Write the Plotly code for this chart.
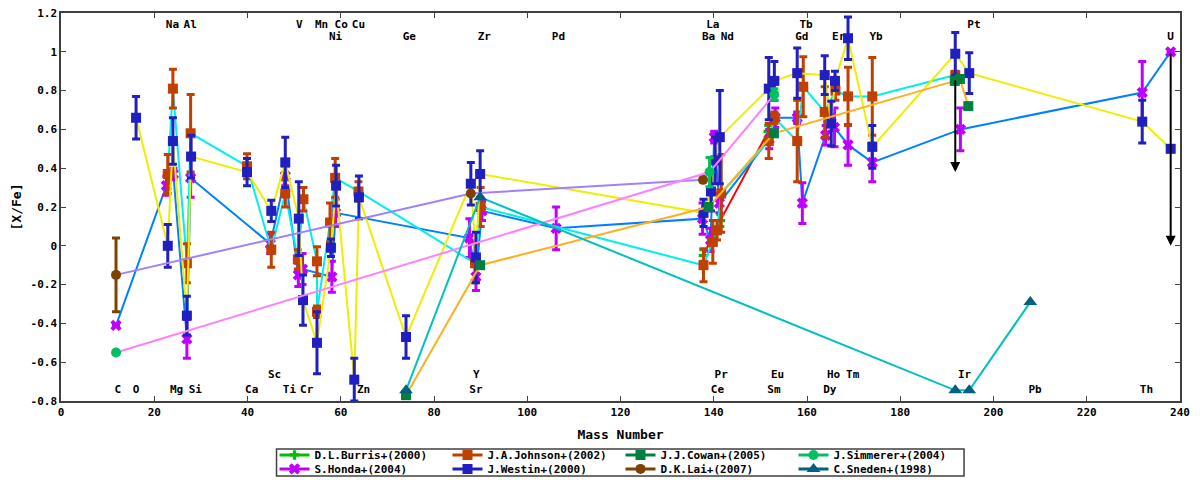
import plotly.graph_objects as go

FONT = "DejaVu Sans Mono"

# values: mass number, [X/Fe], error
burris_x = [137.8, 141.4, 151.7]
burris_y = [-0.05, 0.13, 0.59]
burris_err = [0.03, 0.03, 0.03]

honda_x = [11.8, 22.6, 24.1, 27.0, 27.8, 44.9, 48.1, 50.9, 51.8, 58.1, 58.9,
           87.6, 89.0, 90.3, 106.2, 137.6, 139.3, 140.1, 141.2, 151.9, 153.2,
           157.9, 159.0, 164.0, 165.9, 168.8, 174.0, 192.9, 231.9, 238.0]
honda_y = [-0.41, 0.31, 0.37, -0.48, 0.35, 0.01, 0.36, -0.15, -0.12, -0.16, 0.17,
           0.04, -0.16, 0.18, 0.09, 0.14, 0.03, 0.56, 0.22, 0.55, 0.66,
           0.66, 0.22, 0.57, 0.61, 0.52, 0.43, 0.60, 0.79, 1.00]
honda_err = [0, 0.05, 0.03, 0.1, 0.1, 0.05, 0.05, 0.06, 0.08, 0.08, 0.07,
             0.1, 0.07, 0.05, 0.11, 0.08, 0.06, 0.03, 0.05, 0.05, 0.05,
             0.03, 0.105, 0.05, 0.1, 0.105, 0.1, 0.11, 0.16, 0]

johnson_x = [22.9, 24.0, 27.0, 27.8, 39.9, 45.1, 48.1, 50.8, 52.0, 54.9, 54.9,
             57.7, 58.8, 63.8, 88.8, 90.0, 137.8, 139.8, 140.7, 141.6, 151.8,
             153.0, 157.9, 159.2, 163.8, 166.1, 168.8, 174.0, 191.8]
johnson_y = [0.37, 0.81, -0.09, 0.58, 0.41, -0.02, 0.27, -0.07, 0.24, -0.08, -0.34,
             0.12, 0.35, 0.28, -0.09, 0.20, -0.10, 0.02, 0.08, 0.27, 0.54,
             0.66, 0.54, 0.82, 0.69, 0.80, 0.77, 0.77, 0.88]
johnson_err = [0.1, 0.1, 0.1, 0.2, 0.065, 0.09, 0.07, 0.05, 0.06, 0.075, 0.03,
               0.1, 0.1, 0.05, 0.1, 0.1, 0.085, 0.11, 0.05, 0.2, 0.09,
               0.03, 0.21, 0.155, 0.13, 0.05, 0.15, 0.2, 0.02]

westin_x = [16.1, 22.9, 24.0, 27.0, 27.9, 39.9, 45.1, 48.1, 51.0, 51.9, 54.9,
            57.9, 59.0, 62.9, 63.9, 74.0, 87.9, 89.0, 89.9, 137.8, 139.4,
            140.3, 141.3, 151.8, 153.0, 157.9, 163.8, 165.2, 166.0, 168.8, 174.0,
            191.8, 194.8, 231.9, 238.0]
westin_y = [0.66, 0.00, 0.54, -0.36, 0.46, 0.38, 0.18, 0.43, 0.14, -0.28, -0.50,
            -0.01, 0.31, -0.69, 0.25, -0.47, 0.32, -0.06, 0.37, 0.17, 0.28,
            0.44, 0.56, 0.81, 0.85, 0.89, 0.88, 0.63, 0.85, 1.07, 0.51,
            0.99, 0.89, 0.64, 0.50]
westin_err = [0.11, 0.11, 0.12, 0.1, 0.11, 0.07, 0.055, 0.13, 0.19, 0.13, 0.16,
              0.045, 0.105, 0.11, 0.11, 0.11, 0.11, 0.13, 0.12, 0.07, 0.1,
              0.12, 0.24, 0.16, 0.1, 0.13, 0.1, 0.115, 0.05, 0.11, 0.11,
              0.11, 0.105, 0.11, 0]

cowan_x = [74.0, 89.9, 138.9, 152.9, 191.7, 192.8, 194.6]
cowan_y = [-0.77, -0.10, 0.20, 0.58, 0.85, 0.86, 0.72]

lai_x = [11.8, 87.9, 137.7]
lai_y = [-0.15, 0.27, 0.34]
lai_err = [0.19, 0, 0]

simmerer_x = [11.8, 139.1, 153.0]
simmerer_y = [-0.55, 0.38, 0.78]
simmerer_err = [0, 0.075, 0.03]

sneden_x = [74.0, 89.9, 191.8, 194.8, 207.9]
sneden_y = [-0.745, 0.25, -0.745, -0.745, -0.29]

# upper limits (black arrows)
limit_x = [191.8, 238.0]
limit_from = [0.86, 1.0]
limit_to = [0.38, 0.0]

# element labels
elem_names = ["Na", "Al", "V", "Mn", "Co", "Cu", "La", "Tb", "Pt",
              "Ni", "Ge", "Zr", "Pd", "Ba", "Nd", "Gd", "Er", "Yb", "U",
              "C", "O", "Mg", "Si", "Ca", "Ti", "Cr", "Zn", "Sr", "Ce", "Sm", "Dy", "Pb", "Th",
              "Sc", "Y", "Pr", "Eu", "Ho", "Tm", "Ir"]
elem_x = [23.9, 27.7, 51.1, 55.9, 60.1, 63.8, 139.8, 159.8, 195.8,
          58.9, 74.7, 90.8, 106.7, 138.9, 142.9, 158.9, 166.8, 174.8, 238.0,
          12.2, 16.1, 24.8, 28.8, 40.9, 49.0, 52.7, 64.9, 89.0, 140.8, 152.9, 164.9, 208.9, 232.8,
          45.8, 89.1, 141.6, 153.7, 165.7, 169.8, 193.8]
elem_y = [1.138] * 9 + [1.074] * 10 + [-0.743] * 14 + [-0.666] * 7

x_ticks = list(range(0, 241, 20))
y_ticks = [-0.8, -0.6, -0.4, -0.2, 0, 0.2, 0.4, 0.6, 0.8, 1, 1.2]
y_ticktext = ["-0.8", "-0.6", "-0.4", "-0.2", "0", "0.2", "0.4", "0.6", "0.8", "1", "1.2"]


def series_traces(name, xs, ys, errs, mcolor, lcolor, symbol, size, legend):
    traces = [go.Scatter(x=xs, y=ys, mode='lines', line=dict(color=lcolor, width=2),
                         showlegend=False, hoverinfo='skip')]
    if errs is not None:
        err = dict(type='data', array=errs, color=mcolor, thickness=3, width=4)
    else:
        err = dict(visible=False)
    traces.append(go.Scatter(x=xs, y=ys, mode='markers', error_y=err, showlegend=False,
                             marker=dict(color=mcolor, symbol=symbol, size=size, line=dict(width=0))))
    traces.append(go.Scatter(x=[None], y=[None], mode='lines+markers', name=name, legend=legend,
                             line=dict(color=mcolor, width=3),
                             marker=dict(color=mcolor, symbol=symbol, size=size)))
    return traces


def get_plot():
    fig = go.Figure()
    fig.add_trace(go.Scatter(x=elem_x, y=elem_y, text=elem_names, mode='text', showlegend=False,
                             textfont=dict(family=FONT, size=11, color='black', weight='bold'),
                             hoverinfo='skip'))

    series = [
        ("D.L.Burris+(2000)", burris_x, burris_y, burris_err, '#00c000', '#ff0000', 'cross', 8, 'legend'),
        ("S.Honda+(2004)", honda_x, honda_y, honda_err, '#c000ff', '#0080ff', 'x', 10, 'legend2'),
        ("J.A.Johnson+(2002)", johnson_x, johnson_y, johnson_err, '#c04000', '#00eeee', 'square', 10, 'legend'),
        ("J.Westin+(2000)", westin_x, westin_y, westin_err, '#2020c0', '#eeee00', 'square', 10, 'legend2'),
        ("J.J.Cowan+(2005)", cowan_x, cowan_y, None, '#008040', '#ffb020', 'square', 10, 'legend'),
        ("D.K.Lai+(2007)", lai_x, lai_y, lai_err, '#804000', '#a080ff', 'circle', 10, 'legend2'),
        ("J.Simmerer+(2004)", simmerer_x, simmerer_y, simmerer_err, '#00c060', '#ff80ff', 'circle', 10, 'legend'),
        ("C.Sneden+(1998)", sneden_x, sneden_y, None, '#006080', '#00c0c0', 'triangle-up', 12, 'legend2'),
    ]
    for s in series:
        for t in series_traces(*s):
            fig.add_trace(t)

    for i in range(len(limit_x)):
        fig.add_annotation(x=limit_x[i], y=limit_to[i], ax=limit_x[i], ay=limit_from[i],
                           xref='x', yref='y', axref='x', ayref='y', text='',
                           showarrow=True, arrowhead=2, arrowsize=1, arrowwidth=2,
                           arrowcolor='black')

    legend_style = dict(orientation='h', x=0.5, xanchor='center', yanchor='middle',
                        entrywidth=128, bgcolor='rgba(0,0,0,0)',
                        font=dict(family=FONT, size=11, color='black', weight='bold'))
    # the page body has an 8px margin, so the figure is shrunk by that much
    fig.update_layout(
        width=1192, height=472,
        margin=dict(l=53, r=20, t=5, b=79, autoexpand=False),
        plot_bgcolor='white', paper_bgcolor='white',
        font=dict(family=FONT, size=11, color='black', weight='bold'),
        legend=dict(y=-0.139, **legend_style),
        legend2=dict(y=-0.175, **legend_style),
        shapes=[dict(type='rect', xref='paper', yref='paper', x0=0.1926, x1=0.807,
                     y0=-0.1238, y1=-0.1934, line=dict(color='#404040', width=1.5))],
    )
    fig.update_xaxes(range=[0, 240], tickvals=x_ticks, ticks='inside', ticklen=5,
                     mirror='ticks', showline=True, linecolor='#404040', linewidth=1.5,
                     showgrid=False, zeroline=False, automargin=False,
                     ticklabeloverflow='allow',
                     title=dict(text='Mass Number', standoff=12))
    fig.update_yaxes(range=[-0.8, 1.2], tickvals=y_ticks, ticktext=y_ticktext, ticks='inside',
                     ticklen=5, mirror='ticks', showline=True, linecolor='#404040', linewidth=1.5,
                     showgrid=False, zeroline=False, automargin=False,
                     ticklabeloverflow='allow',
                     title=dict(text='[X/Fe]', standoff=6))
    return fig


fig = get_plot()
fig.write_html("out.html")
